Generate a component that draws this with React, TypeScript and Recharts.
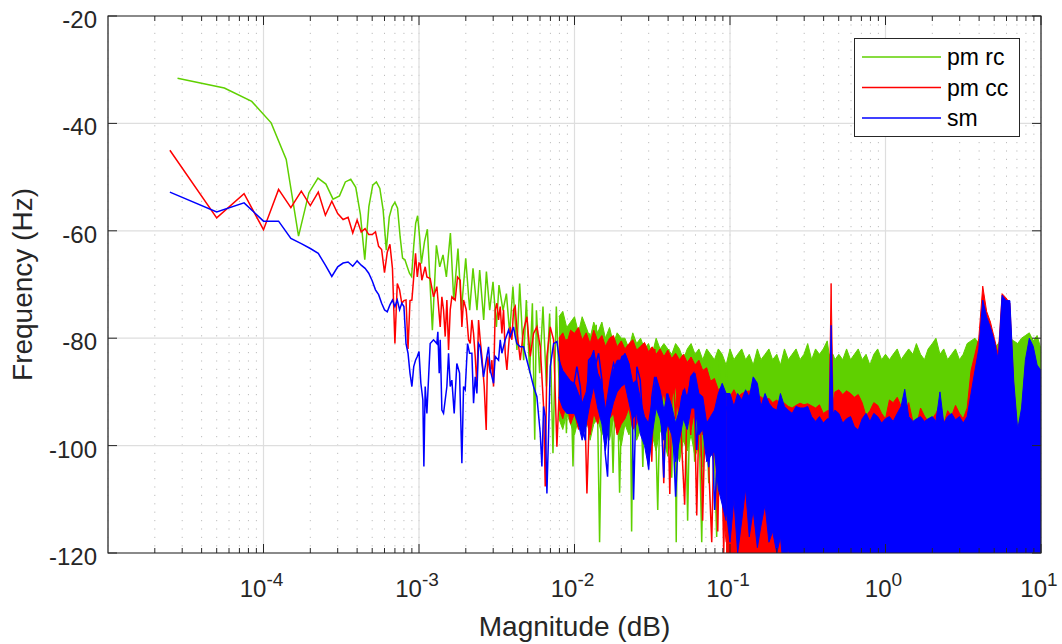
import React from 'react';
import { ComposedChart, Line, Area, XAxis, YAxis, CartesianGrid, ReferenceArea, Legend } from 'recharts';

// ---------- names, colours, ticks ----------
const seriesNames = ['pm rc', 'pm cc', 'sm'];
const seriesColors = ['#5fd000', '#ff0000', '#0000ff'];

const xMajorTicks = [1e-4, 1e-3, 1e-2, 1e-1, 1, 10];
const xMajorExponents = ['-4', '-3', '-2', '-1', '0', '1'];
const xMinorTicks = [
  2e-5, 3e-5, 4e-5, 5e-5, 6e-5, 7e-5, 8e-5, 9e-5,
  2e-4, 3e-4, 4e-4, 5e-4, 6e-4, 7e-4, 8e-4, 9e-4,
  2e-3, 3e-3, 4e-3, 5e-3, 6e-3, 7e-3, 8e-3, 9e-3,
  2e-2, 3e-2, 4e-2, 5e-2, 6e-2, 7e-2, 8e-2, 9e-2,
  0.2, 0.3, 0.4, 0.5, 0.6, 0.7, 0.8, 0.9,
  2, 3, 4, 5, 6, 7, 8, 9,
];
const yTicks = [-120, -100, -80, -60, -40, -20];
const yTickLabels = ['-120', '-100', '-80', '-60', '-40', '-20'];

// ---------- traces (frequency, level) ----------
const pmRcTrace: [number, number][] = [
  [2.8e-5, -31.6], [5.6e-5, -33.4], [8.4e-5, -35.9], [1.12e-4, -39.9], [1.4e-4, -46.7], [1.68e-4, -61.0],
  [1.96e-4, -52.9], [2.24e-4, -50.2], [2.52e-4, -51.3], [2.8e-4, -54.1], [3.08e-4, -53.5], [3.36e-4, -50.9],
  [3.64e-4, -50.4], [3.92e-4, -51.9], [4.2e-4, -57.0], [4.48e-4, -65.4], [4.76e-4, -55.5], [5.04e-4, -51.5],
  [5.32e-4, -50.9], [5.6e-4, -52.1], [5.88e-4, -56.1], [6.16e-4, -63.6], [6.44e-4, -57.4], [6.72e-4, -55.5],
  [7.0e-4, -54.7], [7.28e-4, -55.8], [7.56e-4, -61.1], [7.84e-4, -65.1], [8.12e-4, -65.4], [8.4e-4, -66.7],
  [8.68e-4, -67.9], [8.96e-4, -68.5], [9.24e-4, -63.0], [9.52e-4, -58.6], [9.8e-4, -57.2], [1.008e-3, -61.0],
  [1.036e-3, -66.1], [1.085e-3, -62.0], [1.132e-3, -59.7], [1.219e-3, -78.5], [1.294e-3, -62.7], [1.359e-3, -66.7],
  [1.427e-3, -64.5], [1.5e-3, -68.6], [1.592e-3, -60.4], [1.672e-3, -72.9], [1.781e-3, -63.3], [1.874e-3, -74.8],
  [1.997e-3, -65.1], [2.118e-3, -74.8], [2.225e-3, -67.0], [2.36e-3, -74.8], [2.456e-3, -67.3], [2.606e-3, -76.6],
  [2.713e-3, -67.6], [2.849e-3, -74.8], [2.992e-3, -69.5], [3.146e-3, -77.9], [3.269e-3, -70.1], [3.469e-3, -74.8],
  [3.649e-3, -71.7], [3.829e-3, -79.1], [4.018e-3, -70.4], [4.264e-3, -82.2], [4.44e-3, -69.8], [4.71e-3, -84.1],
  [4.9e-3, -72.9], [5.15e-3, -86.5], [5.36e-3, -73.5], [5.55e-3, -98.9], [5.69e-3, -74.8], [5.97e-3, -86.5],
  [6.27e-3, -74.1], [6.6e-3, -89.0], [6.92e-3, -75.4], [7.27e-3, -101.4], [7.64e-3, -74.1], [8.03e-3, -91.5],
  [8.52e-3, -76.6], [8.87e-3, -97.7], [9.31e-3, -77.9], [9.78e-3, -103.9], [1.028e-2, -78.5], [1.08e-2, -88.4],
  [1.134e-2, -80.3], [1.19e-2, -96.5], [1.25e-2, -79.1], [1.314e-2, -90.2], [1.38e-2, -77.5], [1.45e-2, -118],
  [1.52e-2, -81.0], [1.6e-2, -92.7], [1.68e-2, -79.6], [1.77e-2, -105.1], [1.86e-2, -80.3], [1.95e-2, -108.8],
  [2.05e-2, -81.6], [2.16e-2, -91.5], [2.27e-2, -82.8], [2.33e-2, -116], [2.4e-2, -83], [2.5e-2, -97.7],
  [2.63e-2, -83], [2.75e-2, -104], [2.87e-2, -82], [3.05e-2, -99], [3.23e-2, -83], [3.43e-2, -112],
  [3.59e-2, -84], [3.81e-2, -97], [4.04e-2, -82], [4.22e-2, -106], [4.41e-2, -84], [4.51e-2, -118],
  [4.61e-2, -85], [4.89e-2, -100], [5.11e-2, -83], [5.34e-2, -114], [5.58e-2, -84], [5.93e-2, -103],
  [6.2e-2, -85], [6.58e-2, -118], [6.88e-2, -84], [7.3e-2, -107], [7.63e-2, -85], [8.21e-2, -117],
  [8.58e-2, -84], [9.1e-2, -110], [9.52e-2, -85],
];

const pmCcTrace: [number, number][] = [
  [2.5e-5, -45.0], [5e-5, -57.6], [7.5e-5, -53.1], [1e-4, -59.8], [1.25e-4, -52.3], [1.5e-4, -55.7],
  [1.75e-4, -52.6], [2e-4, -55.3], [2.25e-4, -52.8], [2.5e-4, -57.1], [2.75e-4, -54.5], [3e-4, -56.8],
  [3.25e-4, -57.9], [3.5e-4, -57.5], [3.75e-4, -60.4], [4e-4, -58.0], [4.25e-4, -60.2], [4.5e-4, -59.6],
  [4.75e-4, -60.7], [5e-4, -60.7], [5.25e-4, -60.2], [5.5e-4, -62.9], [5.75e-4, -63.5], [6e-4, -67.8],
  [6.25e-4, -64.0], [6.5e-4, -62.5], [6.75e-4, -67.0], [7e-4, -81.0], [7.25e-4, -69.8], [7.5e-4, -71.0],
  [7.75e-4, -73.5], [8e-4, -73.0], [8.25e-4, -72.9], [8.5e-4, -82.0], [8.75e-4, -73.0], [9e-4, -72.9],
  [9.25e-4, -68.6], [9.5e-4, -64.2], [9.75e-4, -68.6], [1e-3, -66.0],
  [1.018e-3, -66.1], [1.043e-3, -69.2], [1.096e-3, -66.7], [1.124e-3, -68.6], [1.18e-3, -68.9], [1.24e-3, -72.3],
  [1.303e-3, -70.4], [1.369e-3, -77.9], [1.403e-3, -72.3], [1.438e-3, -74.7], [1.474e-3, -79.7], [1.511e-3, -72.9],
  [1.549e-3, -82.2], [1.588e-3, -74.7], [1.627e-3, -72.3], [1.709e-3, -72.9], [1.769e-3, -68.6], [1.841e-3, -69.2],
  [1.887e-3, -77.9], [1.934e-3, -72.9], [2.012e-3, -74.7], [2.083e-3, -80.3], [2.135e-3, -81.0], [2.188e-3, -76.6],
  [2.243e-3, -79.1], [2.299e-3, -83.4], [2.357e-3, -89.0], [2.415e-3, -76.6], [2.475e-3, -80.3], [2.537e-3, -83.4],
  [2.626e-3, -89.0], [2.705e-3, -97.1], [2.759e-3, -83.4], [2.871e-3, -86.5], [2.942e-3, -84.1], [3.016e-3, -89.0],
  [3.091e-3, -74.7], [3.169e-3, -73.5], [3.248e-3, -76.6], [3.329e-3, -74.1], [3.412e-3, -79.1], [3.497e-3, -74.7],
  [3.585e-3, -82.8], [3.675e-3, -85.9], [3.766e-3, -81.6], [3.86e-3, -77.9], [3.956e-3, -80.3], [4.056e-3, -74.7],
  [4.157e-3, -74.1], [4.261e-3, -78.5], [4.477e-3, -84.1], [4.703e-3, -78.5], [4.941e-3, -76.0], [5.192e-3, -83.4],
  [5.454e-3, -79.1], [5.73e-3, -77.9], [6.021e-3, -81.6], [6.325e-3, -92.7], [6.483e-3, -107.6], [6.646e-3, -83.4],
  [6.982e-3, -77.9], [7.336e-3, -80.3], [7.706e-3, -100.2], [8.096e-3, -85.3], [8.506e-3, -84.1], [8.935e-3, -80.3],
  [9.389e-3, -80.3], [9.863e-3, -83.4], [1.036e-2, -84.1], [1.089e-2, -89.0], [1.144e-2, -82.8], [1.202e-2, -108.9],
  [1.263e-2, -89.0], [1.327e-2, -85.3], [1.393e-2, -84.1], [1.464e-2, -80.3], [1.538e-2, -82.8], [1.616e-2, -89.0],
  [1.697e-2, -85.3], [1.783e-2, -83.4], [1.874e-2, -97.7], [1.968e-2, -82.8], [2.068e-2, -84.1], [2.173e-2, -89.0],
  [2.283e-2, -83.4], [2.398e-2, -88.4], [2.519e-2, -91.5], [2.647e-2, -85.3],
  [2.75e-2, -82], [2.87e-2, -96], [3.0e-2, -83], [3.14e-2, -103], [3.28e-2, -82], [3.43e-2, -92],
  [3.58e-2, -84], [3.75e-2, -107], [3.92e-2, -83], [4.1e-2, -109], [4.28e-2, -85], [4.47e-2, -95],
  [4.68e-2, -84], [4.89e-2, -100], [5.11e-2, -111], [5.35e-2, -86], [5.59e-2, -98], [5.84e-2, -85],
  [6.11e-2, -113], [6.39e-2, -88], [6.67e-2, -114], [6.98e-2, -90], [7.3e-2, -104], [7.63e-2, -118],
  [7.97e-2, -92], [8.34e-2, -116], [8.71e-2, -90], [9.11e-2, -120], [9.52e-2, -91],
  [0.1, -121], [0.104, -92], [0.109, -119], [0.115, -93], [0.122, -121], [0.13, -92], [0.138, -120],
];

const smTrace: [number, number][] = [
  [2.5e-5, -52.8], [5e-5, -56.5], [7.5e-5, -54.8], [1e-4, -58.2], [1.25e-4, -58.2], [1.5e-4, -61.4],
  [1.75e-4, -62.4], [2e-4, -63.3], [2.25e-4, -64.2], [2.5e-4, -66.4], [2.75e-4, -68.5], [3e-4, -66.7],
  [3.25e-4, -66.0], [3.5e-4, -65.8], [3.75e-4, -66.6], [4e-4, -65.6], [4.25e-4, -66.4], [4.5e-4, -67.0],
  [4.75e-4, -67.9], [5e-4, -69.3], [5.25e-4, -71.0], [5.5e-4, -71.9], [5.75e-4, -73.5], [6e-4, -74.7],
  [6.25e-4, -75.1], [6.5e-4, -73.8], [6.75e-4, -72.9], [7e-4, -74.1], [7.25e-4, -72.9], [7.5e-4, -74.7],
  [7.75e-4, -73.5], [8e-4, -74.1], [8.25e-4, -81.0], [8.5e-4, -82.8], [8.75e-4, -86.5], [9e-4, -89.0],
  [9.25e-4, -85.3], [9.5e-4, -84.1], [9.75e-4, -83.4], [1e-3, -82.5],
  [1.028e-3, -88.4], [1.059e-3, -91.5], [1.075e-3, -103.9], [1.096e-3, -89.0], [1.124e-3, -94.0], [1.18e-3, -81.0],
  [1.24e-3, -80.3], [1.303e-3, -81.0], [1.322e-3, -78.8], [1.349e-3, -86.5], [1.369e-3, -80.3], [1.403e-3, -93.4],
  [1.438e-3, -94.0], [1.511e-3, -89.0], [1.549e-3, -82.8], [1.588e-3, -89.0], [1.627e-3, -87.8], [1.684e-3, -94.0],
  [1.751e-3, -84.7], [1.823e-3, -86.5], [1.887e-3, -103.3], [1.934e-3, -89.0], [1.982e-3, -89.6], [2.052e-3, -81.0],
  [2.114e-3, -82.8], [2.188e-3, -82.8], [2.243e-3, -92.1], [2.299e-3, -87.2], [2.357e-3, -90.3], [2.415e-3, -81.0],
  [2.475e-3, -81.6], [2.601e-3, -87.2], [2.732e-3, -83.4], [2.8e-3, -81.6], [2.871e-3, -85.9], [3.016e-3, -88.4],
  [3.091e-3, -83.4], [3.248e-3, -84.1], [3.329e-3, -80.3], [3.412e-3, -82.8], [3.585e-3, -80.3], [3.766e-3, -78.5],
  [3.86e-3, -79.7], [4.056e-3, -77.9], [4.157e-3, -79.7], [4.261e-3, -81.0], [4.477e-3, -81.6], [4.703e-3, -81.6],
  [4.941e-3, -84.1], [5.192e-3, -86.5], [5.454e-3, -89.0], [5.73e-3, -90.9], [6.021e-3, -97.7], [6.171e-3, -103.9],
  [6.325e-3, -92.7], [6.483e-3, -94.6], [6.646e-3, -108.9], [6.812e-3, -97.7], [6.982e-3, -85.3], [7.336e-3, -81.0],
  [7.706e-3, -80.6], [8.096e-3, -85.3], [8.506e-3, -89.0], [8.718e-3, -91.5], [9.16e-3, -94.0], [9.389e-3, -92.7],
  [9.863e-3, -89.0], [1.036e-2, -85.3], [1.089e-2, -89.0], [1.144e-2, -97.7], [1.173e-2, -99.0], [1.232e-2, -84.1],
  [1.294e-2, -83.4], [1.36e-2, -85.3], [1.428e-2, -82.8], [1.5e-2, -87.8], [1.576e-2, -101.4], [1.632e-2, -105.8],
  [1.697e-2, -87.8], [1.783e-2, -84.7], [1.874e-2, -86.5], [2.018e-2, -83.4], [2.12e-2, -83.1], [2.227e-2, -84.7],
  [2.34e-2, -89.0], [2.398e-2, -110.1], [2.519e-2, -85.3], [2.647e-2, -87.8],
  [2.75e-2, -95.8], [2.87e-2, -98], [3.0e-2, -104.5], [3.14e-2, -91], [3.28e-2, -87.2], [3.43e-2, -90],
  [3.58e-2, -92], [3.75e-2, -106], [3.92e-2, -90.3], [4.1e-2, -93.4], [4.28e-2, -96], [4.47e-2, -109.5],
  [4.68e-2, -97], [4.89e-2, -91], [5.11e-2, -89.6], [5.35e-2, -92], [5.59e-2, -87.2], [5.84e-2, -86.5],
  [6.11e-2, -100.8], [6.39e-2, -91.5], [6.67e-2, -93.4], [6.98e-2, -98.3], [7.3e-2, -104], [7.63e-2, -95.8],
  [7.97e-2, -112], [8.34e-2, -100.8], [8.71e-2, -90.3], [9.11e-2, -95], [9.52e-2, -92.7],
];

// ---------- dense mid band (0.008 .. 0.094): [low, high] envelopes ----------
const midBandFreq = [
  7.94e-3, 8.41e-3, 8.91e-3, 9.44e-3,
  1.00e-2, 1.06e-2, 1.12e-2, 1.19e-2, 1.26e-2, 1.33e-2, 1.41e-2, 1.50e-2, 1.58e-2, 1.68e-2,
  1.78e-2, 1.88e-2, 2.00e-2, 2.11e-2, 2.24e-2, 2.37e-2, 2.51e-2, 2.66e-2, 2.82e-2, 2.99e-2,
  3.16e-2, 3.35e-2, 3.55e-2, 3.76e-2, 3.98e-2, 4.22e-2, 4.47e-2, 4.73e-2, 5.01e-2, 5.31e-2,
  5.62e-2, 5.96e-2, 6.31e-2, 6.68e-2, 7.08e-2, 7.50e-2, 7.94e-2, 8.41e-2, 8.91e-2, 9.44e-2,
];
const pmRcMidHigh = [
  -76, -75, -78, -77,
  -76, -79, -76, -78, -80, -77, -79, -77, -80, -78, -81, -79, -80, -80, -82, -79, -81, -80, -82, -81,
  -83, -80, -82, -81, -82, -83, -81, -82, -84, -82, -81, -83, -82, -84, -82, -83, -84, -82, -83, -85,
];
const pmRcMidLow = [
  -95, -97, -94, -96,
  -98, -95, -97, -94, -99, -96, -95, -98, -96, -99, -95, -97, -100, -96, -98, -95, -99, -97, -96, -100,
  -98, -101, -97, -99, -102, -98, -100, -103, -99, -101, -98, -102, -100, -104, -99, -101, -103, -100, -105, -108,
];
const pmCcMidHigh = [
  -80, -79, -81, -78.5,
  -79.1, -78, -80.3, -79, -81, -78.5, -80.5, -79.5, -81.5, -80, -79.5, -81.6, -80.5, -82, -81, -80.3, -82.2, -81.5, -80.8, -82.5,
  -81.6, -83, -82, -83.4, -82.2, -83.8, -82.8, -84, -83, -84.5, -83.5, -85, -84.1, -86, -85.5, -88, -87.5, -89.6, -89, -90.3,
];
const pmCcMidLow = [
  -93, -95, -92, -96,
  -94, -97, -93, -95, -98, -94, -96, -93, -97, -95, -94, -98, -96, -95, -93, -97, -96, -94, -98, -96,
  -92, -89, -94, -90, -95, -91, -89, -96, -92, -90, -97, -93, -91, -98, -94, -100, -96, -104, -110, -118,
];
const smMidHigh = [
  -84, -86, -87, -88,
  -88.4, -90.3, -92.1, -90, -84.1, -82.2, -86.5, -88.4, -93.4, -88.4, -85.9, -84.1, -84.1, -82.8, -84.7, -88.4, -87.8, -91.5, -94.6, -95.8,
  -91.5, -87.2, -89.6, -93.4, -90.3, -92.7, -95.8, -93.4, -89.6, -90.9, -87.2, -86.5, -90.3, -90.9, -95.8, -94.6, -93.4, -90.3, -88.4, -90.3,
];
const smMidLow = [
  -91, -93, -94, -94,
  -94, -96, -99, -96, -92, -89, -93, -96, -101, -95, -92, -90, -89, -88.5, -92, -95, -94, -98, -100, -104,
  -98, -93, -95, -99, -96, -98, -103, -99, -95, -97, -93, -93, -98, -97, -103, -102, -101, -108, -111, -114,
];

// ---------- saturated band (0.094 .. 10): top envelope, filled towards the floor ----------
const floorBandFreq = [
  9.44e-2,
  0.100, 0.106, 0.112, 0.119, 0.126, 0.133, 0.141, 0.150, 0.158, 0.168, 0.178, 0.188, 0.200,
  0.211, 0.224, 0.237, 0.251, 0.266, 0.282, 0.299, 0.316, 0.335, 0.355, 0.376, 0.398, 0.422,
  0.434, 0.447, 0.460,
  0.473, 0.501, 0.531, 0.562, 0.596, 0.631, 0.668, 0.708, 0.750, 0.794, 0.841, 0.891, 0.944,
  1.00, 1.06, 1.12, 1.19, 1.26, 1.33, 1.41, 1.50, 1.58, 1.68, 1.78, 1.88, 2.00, 2.11,
  2.24, 2.37, 2.51, 2.66, 2.82, 2.99, 3.16, 3.35, 3.55, 3.76, 3.98, 4.22, 4.47, 4.73,
  5.01, 5.31, 5.62, 5.96, 6.31, 6.68, 7.08, 7.50, 7.94, 8.41, 8.91, 9.44, 10,
];
const pmRcFloorHigh = [
  -85,
  -82, -84, -83, -82, -84, -83, -85, -82, -84, -83, -82, -84, -83,
  -85, -82, -84, -83, -82, -84, -83, -81, -84, -82, -83, -82, -80.5,
  -83, -83, -83,
  -84, -83, -84, -82, -84, -83, -82, -84, -83, -85, -83, -82, -84,
  -83, -84, -83, -82, -84, -83, -82, -83, -81, -83, -84, -82, -81, -80,
  -83, -82, -84, -83, -82, -84, -83, -81, -80.5, -80, -81, -81, -82, -81,
  -82, -81, -80, -81, -80, -80.5, -81, -80, -79.5, -79, -80.5, -79.5, -82,
];
const pmCcFloorHigh = [
  -90.3,
  -90.9, -89.6, -91, -90.3, -90, -89.8, -90.5, -91, -90.9, -91.5, -91.2, -92, -91.5,
  -92.5, -92.1, -92.7, -93, -92.5, -92.1, -92.4, -92.2, -92.6, -93, -92.4, -94, -93.5,
  -93.5, -69.8, -92,
  -90, -89.6, -90.5, -89.8, -90.3, -91, -90.5, -92, -94.5, -93.5, -92, -92.5, -94,
  -95, -91.5, -92, -91, -92.7, -94, -92, -95.5, -96.5, -93, -94.5, -95.5, -95, -94,
  -92.5, -96, -93.5, -94.5, -92.5, -94, -95, -93, -86, -83, -80, -70.3, -75, -77,
  -80, -83, -71.7, -72.5, -73.5, -89, -98, -94, -85, -81, -82.5, -86, -87,
];
const smFloorHigh = [
  -90.3,
  -90.3, -92.7, -90.3, -91.5, -89.6, -91, -87.2, -88.4, -92.7, -90.3, -92.1, -93, -93.4,
  -90.3, -92.7, -93.4, -94, -92.7, -93, -93, -92.7, -94.6, -95.5, -94.6, -95.8, -95,
  -95, -77.6, -94,
  -93.4, -94, -95.8, -95, -94.6, -96.5, -97.1, -95, -94, -95.5, -94, -94.6, -95.8,
  -95, -94.6, -95.5, -94, -92.7, -89.5, -94.6, -95.5, -95, -94.6, -95.5, -95, -94.6,
  -95.5, -90, -95.8, -94.6, -94, -95.2, -94.6, -95.8, -94.6, -90.3, -86, -82, -72.9, -76,
  -78, -80.5, -84, -72, -73, -73, -88, -97, -93, -84, -80, -81.5, -85, -86,
];
const smFloorLow = [
  -112,
  -118, -110, -120, -114, -108, -117, -112, -119, -115, -111, -118, -116, -120,
  -117, -125, -119, -125, -125, -125, -125, -125, -125, -125, -125, -125, -125,
  -125, -125, -125,
  -125, -125, -125, -125, -125, -125, -125, -125, -125, -125, -125, -125, -125,
  -125, -125, -125, -125, -125, -125, -125, -125, -125, -125, -125, -125, -125, -125,
  -125, -125, -125, -125, -125, -125, -125, -125, -125, -125, -125, -125, -125, -125,
  -125, -125, -125, -125, -125, -125, -125, -125, -125, -125, -125, -125, -125,
];

// ---------- tables built from the arrays ----------
const toRows = (t: [number, number][]) => t.map(([f, v]) => ({ f, v }));
const pmRcRows = toRows(pmRcTrace);
const pmCcRows = toRows(pmCcTrace);
const smRows = toRows(smTrace);
const midBandRows = midBandFreq.map((f, i) => ({
  f,
  g: [pmRcMidLow[i], pmRcMidHigh[i]],
  r: [pmCcMidLow[i], pmCcMidHigh[i]],
  b: [smMidLow[i], smMidHigh[i]],
}));
const floorBandRows = floorBandFreq.map((f, i) => ({
  f,
  g: pmRcFloorHigh[i],
  r: pmCcFloorHigh[i],
  b: [smFloorLow[i], smFloorHigh[i]],
}));
const xAllTicks = [...xMinorTicks, ...xMajorTicks].sort((a, b) => a - b);

// ---------- layout ----------
const W = 1062;
const H = 644;
const PLOT_LEFT = 108;
const PLOT_TOP = 16;
const PLOT_RIGHT = 1041;
const PLOT_BOTTOM = 553;
const FONT = '"Liberation Sans", Arial, Helvetica, sans-serif';
const INK = '#262626';
const X_DOMAIN: [number, number] = [1e-5, 10];
const Y_DOMAIN: [number, number] = [-120, -20];

const XTick = (props: any) => {
  const { x, payload } = props;
  const v = payload.value as number;
  const mi = xMajorTicks.findIndex((t) => Math.abs(t - v) / t < 1e-9);
  const major = mi >= 0;
  const len = major ? 9 : 5;
  return (
    <g>
      <line x1={x} x2={x} y1={PLOT_BOTTOM} y2={PLOT_BOTTOM - len} stroke={INK} strokeWidth={1} />
      <line x1={x} x2={x} y1={PLOT_TOP} y2={PLOT_TOP + len} stroke={INK} strokeWidth={1} />
      {major && (
        <text x={x - 2} y={597} textAnchor="middle" fill={INK} fontFamily={FONT} fontSize={24}>
          10
          <tspan dy={-11} fontSize={19}>
            {xMajorExponents[mi]}
          </tspan>
        </text>
      )}
    </g>
  );
};

const YTick = (props: any) => {
  const { y, payload } = props;
  const i = yTicks.indexOf(payload.value);
  return (
    <g>
      <line x1={PLOT_LEFT} x2={PLOT_LEFT + 9} y1={y} y2={y} stroke={INK} strokeWidth={1} />
      <line x1={PLOT_RIGHT} x2={PLOT_RIGHT - 9} y1={y} y2={y} stroke={INK} strokeWidth={1} />
      <text x={97} y={y + 12} textAnchor="end" fill={INK} fontFamily={FONT} fontSize={24}>
        {yTickLabels[i]}
      </text>
    </g>
  );
};

const XLabel = () => (
  <text x={(PLOT_LEFT + PLOT_RIGHT) / 2} y={636} textAnchor="middle" fill={INK} fontFamily={FONT} fontSize={28}>
    Magnitude (dB)
  </text>
);

const YLabel = () => {
  const cy = (PLOT_TOP + PLOT_BOTTOM) / 2;
  return (
    <text
      x={32}
      y={cy}
      transform={`rotate(-90, 32, ${cy})`}
      textAnchor="middle"
      fill={INK}
      fontFamily={FONT}
      fontSize={28}
    >
      Frequency (Hz)
    </text>
  );
};

const LegendBox = () => (
  <svg width={167} height={100} style={{ display: 'block', overflow: 'visible' }}>
    <rect x={0.5} y={0.5} width={165} height={98} fill="#ffffff" stroke={INK} strokeWidth={1} />
    {seriesNames.map((name, i) => {
      const cy = 19 + i * 30.5;
      return (
        <g key={name}>
          <line x1={8} x2={87} y1={cy} y2={cy} stroke={seriesColors[i]} strokeWidth={1.5} />
          <text x={93} y={cy + 8} fill="#000000" fontFamily={FONT} fontSize={23}>
            {name}
          </text>
        </g>
      );
    })}
  </svg>
);

export default function App() {
  const common = {
    xAxisId: 'x',
    yAxisId: 'y',
    isAnimationActive: false,
    dot: false,
    activeDot: false,
    type: 'linear' as const,
  };
  return (
    <div style={{ position: 'fixed', left: 0, top: 0, width: W, height: H, background: '#ffffff' }}>
      <ComposedChart width={W} height={H} margin={{ top: PLOT_TOP, right: W - PLOT_RIGHT, bottom: 0, left: 0 }}>
        <XAxis
          xAxisId="x"
          dataKey="f"
          type="number"
          scale="log"
          domain={X_DOMAIN}
          allowDataOverflow
          ticks={xAllTicks}
          interval={0}
          tick={<XTick />}
          tickLine={false}
          axisLine={false}
          tickSize={0}
          tickMargin={0}
          height={H - PLOT_BOTTOM}
          label={<XLabel />}
        />
        <XAxis
          xAxisId="xmaj"
          dataKey="f"
          type="number"
          scale="log"
          domain={X_DOMAIN}
          allowDataOverflow
          ticks={xMajorTicks}
          interval={0}
          hide
        />
        <YAxis
          yAxisId="y"
          type="number"
          domain={Y_DOMAIN}
          allowDataOverflow
          ticks={yTicks}
          interval={0}
          tick={<YTick />}
          tickLine={false}
          axisLine={false}
          tickSize={0}
          width={PLOT_LEFT}
          label={<YLabel />}
        />
        <CartesianGrid
          xAxisId="x"
          yAxisId="y"
          horizontal={false}
          vertical
          stroke="#bdbdbd"
          strokeDasharray="1.2 7.2"
        />
        <CartesianGrid xAxisId="xmaj" yAxisId="y" horizontal vertical stroke="#dedede" strokeWidth={1.2} />

        <Area {...common} data={midBandRows} dataKey="g" fill={seriesColors[0]} fillOpacity={1} stroke={seriesColors[0]} strokeWidth={1} zIndex={101} />
        <Area {...common} data={floorBandRows} dataKey="g" baseValue={-125} fill={seriesColors[0]} fillOpacity={1} stroke={seriesColors[0]} strokeWidth={1} zIndex={101} />
        <Line {...common} data={pmRcRows} dataKey="v" stroke={seriesColors[0]} strokeWidth={1.5} zIndex={102} />

        <Area {...common} data={midBandRows} dataKey="r" fill={seriesColors[1]} fillOpacity={1} stroke={seriesColors[1]} strokeWidth={1} zIndex={103} />
        <Area {...common} data={floorBandRows} dataKey="r" baseValue={-125} fill={seriesColors[1]} fillOpacity={1} stroke={seriesColors[1]} strokeWidth={1} zIndex={103} />
        <Line {...common} data={pmCcRows} dataKey="v" stroke={seriesColors[1]} strokeWidth={1.5} zIndex={104} />

        <Area {...common} data={midBandRows} dataKey="b" fill={seriesColors[2]} fillOpacity={1} stroke={seriesColors[2]} strokeWidth={1} zIndex={105} />
        <Area {...common} data={floorBandRows} dataKey="b" fill={seriesColors[2]} fillOpacity={1} stroke={seriesColors[2]} strokeWidth={1} zIndex={105} />
        <Line {...common} data={smRows} dataKey="v" stroke={seriesColors[2]} strokeWidth={1.5} zIndex={106} />

        <ReferenceArea
          xAxisId="x"
          yAxisId="y"
          x1={X_DOMAIN[0]}
          x2={X_DOMAIN[1]}
          y1={Y_DOMAIN[0]}
          y2={Y_DOMAIN[1]}
          fill="none"
          fillOpacity={0}
          stroke={INK}
          strokeWidth={1.2}
          ifOverflow="visible"
          zIndex={300}
        />
        <Legend
          layout="horizontal"
          verticalAlign="middle"
          align="center"
          wrapperStyle={{ position: 'absolute', left: 854, top: 38, width: 167, height: 100 }}
          content={() => <LegendBox />}
        />
      </ComposedChart>
    </div>
  );
}
